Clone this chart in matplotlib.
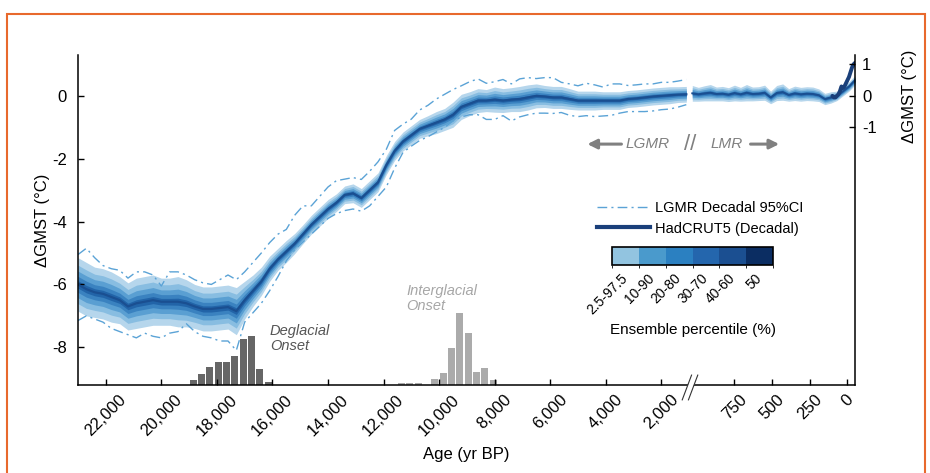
import numpy as np
import matplotlib
matplotlib.use('Agg')
import matplotlib.pyplot as plt
import matplotlib.cm as cm
import matplotlib.patches as mpatches
from matplotlib.colors import ListedColormap, BoundaryNorm
from matplotlib.lines import Line2D

plt.rcParams['font.family'] = ['Liberation Sans', 'DejaVu Sans']
plt.rcParams['axes.unicode_minus'] = False

# ---------------- data ----------------
# LGMR decadal reconstruction, 300-yr grid, 23000 -> 1100 yr BP
lgmr_age = np.arange(23000, 1099, -300)
lgmr_med = np.array([
    -6.0, -6.15, -6.25, -6.3, -6.4, -6.5, -6.7, -6.6, -6.55, -6.5,
    -6.55, -6.55, -6.55, -6.6, -6.7, -6.78, -6.78, -6.75, -6.72, -6.85,
    -6.5, -6.2, -5.9, -5.5, -5.2, -4.95, -4.7, -4.4, -4.1, -3.85,
    -3.6, -3.4, -3.15, -3.1, -3.25, -3.0, -2.75, -2.2, -1.75, -1.45,
    -1.25, -1.05, -0.95, -0.85, -0.75, -0.6, -0.35, -0.25, -0.15, -0.15,
    -0.12, -0.15, -0.12, -0.1, -0.05, 0.0, -0.02, -0.05, -0.05, -0.1,
    -0.15, -0.15, -0.15, -0.15, -0.15, -0.15, -0.1, -0.08, -0.05, -0.02,
    0.0, 0.02, 0.04, 0.05])
# half width of the 2.5-97.5 percentile band
lgmr_spread = np.array([
    0.85, 0.85, 0.8, 0.8, 0.8, 0.75, 0.75, 0.8, 0.8, 0.8,
    0.75, 0.75, 0.8, 0.75, 0.7, 0.7, 0.7, 0.7, 0.7, 0.75,
    0.6, 0.5, 0.45, 0.4, 0.35, 0.35, 0.32, 0.3, 0.3, 0.3,
    0.3, 0.28, 0.28, 0.3, 0.3, 0.3, 0.3, 0.3, 0.3, 0.3,
    0.3, 0.3, 0.32, 0.35, 0.35, 0.4, 0.4, 0.38, 0.38, 0.35,
    0.4, 0.38, 0.38, 0.4, 0.4, 0.38, 0.35, 0.35, 0.35, 0.33,
    0.3, 0.3, 0.3, 0.28, 0.28, 0.28, 0.27, 0.27, 0.27, 0.27,
    0.27, 0.27, 0.25, 0.25])
# decadal 95% CI (dash-dot lines)
lgmr_ci_hi = np.array([
    -5.05, -4.85, -5.15, -5.4, -5.5, -5.55, -5.8, -5.6, -5.6, -5.7,
    -6.05, -5.6, -5.6, -5.7, -5.85, -5.95, -6.0, -5.85, -5.7, -5.85,
    -5.6, -5.3, -5.0, -4.67, -4.4, -4.25, -3.8, -3.5, -3.5, -3.2,
    -2.9, -2.7, -2.65, -2.6, -2.66, -2.4, -2.1, -1.7, -1.1, -0.9,
    -0.74, -0.45, -0.3, -0.1, 0.05, 0.2, 0.32, 0.45, 0.54, 0.4,
    0.45, 0.52, 0.38, 0.54, 0.58, 0.55, 0.58, 0.58, 0.43, 0.38,
    0.32, 0.4, 0.35, 0.28, 0.38, 0.38, 0.33, 0.35, 0.38, 0.38,
    0.43, 0.43, 0.47, 0.52])
lgmr_ci_lo = np.array([
    -7.15, -7.0, -7.1, -7.2, -7.4, -7.5, -7.6, -7.7, -7.55, -7.65,
    -7.7, -7.55, -7.5, -7.25, -7.5, -7.65, -7.7, -7.8, -7.8, -8.1,
    -7.2, -6.9, -6.6, -6.2, -5.75, -5.25, -4.9, -4.65, -4.4, -4.15,
    -3.9, -3.75, -3.65, -3.6, -3.67, -3.5, -3.2, -2.9, -2.3, -1.8,
    -1.6, -1.42, -1.3, -1.15, -1.0, -0.8, -0.67, -0.6, -0.6, -0.75,
    -0.75, -0.63, -0.8, -0.67, -0.6, -0.55, -0.55, -0.56, -0.53, -0.62,
    -0.66, -0.63, -0.66, -0.64, -0.62, -0.55, -0.5, -0.5, -0.5, -0.48,
    -0.44, -0.42, -0.36, -0.28])

# LMR (last millennium), 40-yr grid
lmr_age = np.arange(1030, -51, -40)
lmr_med = np.array([
    0.08, 0.05, 0.08, 0.1, 0.06, 0.07, 0.04, 0.09, 0.05, 0.1,
    0.06, 0.07, 0.1, -0.05, 0.09, 0.12, 0.03, 0.08, 0.05, 0.07,
    0.06, 0.02, -0.1, -0.05, 0.0, 0.15, 0.3, 0.5])
lmr_spread = np.array([
    0.25, 0.22, 0.24, 0.26, 0.22, 0.23, 0.22, 0.25, 0.22, 0.26,
    0.22, 0.22, 0.24, 0.2, 0.24, 0.26, 0.2, 0.23, 0.22, 0.22,
    0.22, 0.2, 0.18, 0.18, 0.15, 0.15, 0.15, 0.15])

# HadCRUT5 decadal
had_age = np.arange(100, -51, -10)
had_val = np.array([0.0, -0.05, -0.05, 0.0, 0.05, 0.15, 0.3, 0.25,
                    0.3, 0.4, 0.5, 0.6, 0.75, 0.9, 1.0, 1.05])

# onset histograms (percent of records), 300-yr bins
degl_age = np.array([18850, 18550, 18250, 17950, 17650, 17350, 17050, 16750, 16450, 16150])
degl_pct = np.array([1.6, 3.5, 5.8, 7.4, 7.4, 9.3, 14.7, 15.7, 5.1, 1.0])
inter_age = np.array([11350, 11050, 10750, 10450, 10150, 9850, 9550, 9250, 8950, 8650, 8350, 8050])
inter_pct = np.array([0.6, 0.6, 0.6, 0.0, 1.9, 3.8, 11.8, 23.0, 16.6, 4.2, 5.4, 1.6])

# percentile bands relative to the 2.5-97.5 half width
band_frac = [1.0, 0.72, 0.5, 0.3, 0.14]
cbar_labels = ['2.5-97.5', '10-90', '20-80', '30-70', '40-60', '50']

xtick_age = [22000, 20000, 18000, 16000, 14000, 12000, 10000, 8000, 6000, 4000, 2000, 750, 500, 250, 0]
xtick_lab = ['22,000', '20,000', '18,000', '16,000', '14,000', '12,000', '10,000', '8,000',
             '6,000', '4,000', '2,000', '750', '500', '250', '0']

# ---------------- styles ----------------
band_colors = ['#b6d6ec', '#88bde1', '#5a9fd2', '#3a82c0', '#2264a8']
cbar_colors = ['#92c4e0', '#4a9acc', '#2b80c1', '#2466ad', '#1b4f91', '#0b2d62']
med_color = '#1a4f91'
ci_color = '#5ba3d6'
had_color = '#1a3f7a'
ci_style = (0, (7, 3, 1.5, 3))
ymin, ymax = -9.2, 1.3


# broken time axis: linear in the LGMR part, stretched in the last millennium
# (increasing with age, the axis is then inverted with set_xlim)
def fwd(age):
    age = np.asarray(age, dtype=float)
    return -np.where(age >= 1050, (23000 - age) / 2000, 11.817 + (750 - age) * 0.678 / 250)


def inv(u):
    u = -np.asarray(u, dtype=float)
    return np.where(u < 11.02, 23000 - 2000 * u, 750 - (u - 11.817) * 250 / 0.678)


fig = plt.figure(figsize=(9.3, 4.73), dpi=100)
ax = fig.add_axes([78 / 930, 1 - 385 / 473, 777 / 930, 330 / 473])
ax.set_xscale('function', functions=(fwd, inv))

# percentile bands
for f, c in zip(band_frac, band_colors):
    ax.fill_between(lgmr_age, lgmr_med - f * lgmr_spread, lgmr_med + f * lgmr_spread, color=c, lw=0)
    ax.fill_between(lmr_age, lmr_med - f * lmr_spread, lmr_med + f * lmr_spread, color=c, lw=0)
ax.plot(lgmr_age, lgmr_med, color=med_color, lw=1.6)
ax.plot(lmr_age, lmr_med, color=med_color, lw=1.4)
ax.plot(lgmr_age, lgmr_ci_hi, color=ci_color, lw=1.0, ls=ci_style)
ax.plot(lgmr_age, lgmr_ci_lo, color=ci_color, lw=1.0, ls=ci_style)
ax.plot(had_age, had_val, color=had_color, lw=2.8, solid_capstyle='round')

# onset histograms sitting on the bottom axis
ax.bar(degl_age, degl_pct * 0.1, width=250, bottom=ymin, color='#666666', zorder=1)
ax.bar(inter_age, inter_pct * 0.1, width=250, bottom=ymin, color='#ababab', zorder=1)

ax.set_xlim(23000, -50)
ax.set_ylim(ymin, ymax)
ax.set_xticks(xtick_age, xtick_lab, rotation=45, ha='center')
ax.set_yticks([0, -2, -4, -6, -8])
ax.tick_params(direction='in', length=4, width=1, labelsize=12)
ax.tick_params(axis='x', pad=5)
ax.tick_params(axis='y', pad=8)
ax.minorticks_off()
for s in ['top', 'right']:
    ax.spines[s].set_visible(False)
for s in ['left', 'bottom']:
    ax.spines[s].set_linewidth(1.1)
ax.set_ylabel('ΔGMST (°C)', fontsize=12)
ax.yaxis.set_label_coords(-0.036, 0.5)
ax.set_xlabel('Age (yr BP)', fontsize=12, labelpad=6)

# right axis
ax2 = ax.twinx()
ax2.set_ylim(ymin, ymax)
ax2.set_yticks([-1, 0, 1])
ax2.tick_params(direction='in', length=4, width=1, labelsize=12, pad=5)
for s in ['top', 'left', 'bottom']:
    ax2.spines[s].set_visible(False)
ax2.spines['right'].set_linewidth(1.1)
ax2.set_ylabel('ΔGMST (°C)', fontsize=12)
ax2.yaxis.set_label_coords(1.06, (0 - ymin) / (ymax - ymin))

# axis break marks
xb = (690 - 78) / 777
ax.plot([xb - 0.006, xb + 0.006], [-0.045, 0.03], transform=ax.transAxes, color='white', lw=4, clip_on=False, zorder=5)
for d in (-0.004, 0.004):
    ax.plot([xb + d - 0.006, xb + d + 0.006], [-0.045, 0.03], transform=ax.transAxes,
            color='#333333', lw=0.8, clip_on=False, zorder=6)

# LGMR // LMR arrows
gray = '#808080'
ax.annotate('', xy=(0.652, 0.73), xytext=(0.703, 0.73), xycoords='axes fraction',
            arrowprops=dict(arrowstyle='-|>', color=gray, lw=2.2, mutation_scale=14))
ax.annotate('', xy=(0.906, 0.73), xytext=(0.862, 0.73), xycoords='axes fraction',
            arrowprops=dict(arrowstyle='-|>', color=gray, lw=2.2, mutation_scale=14))
ax.text(0.733, 0.73, 'LGMR', transform=ax.transAxes, ha='center', va='center', style='italic',
        color=gray, fontsize=11)
ax.text(0.835, 0.73, 'LMR', transform=ax.transAxes, ha='center', va='center', style='italic',
        color=gray, fontsize=11)
ax.text(0.788, 0.73, '//', transform=ax.transAxes, ha='center', va='center',
        color=gray, fontsize=16)

# onset labels
ax.text((270 - 78) / 777, (385 - 324) / 330, 'Deglacial\nOnset', transform=ax.transAxes,
        ha='left', va='top', style='italic', color='#555555', fontsize=10.5, linespacing=1.1)
ax.text((406 - 78) / 777, (385 - 284) / 330, 'Interglacial\nOnset', transform=ax.transAxes,
        ha='left', va='top', style='italic', color='#a6a6a6', fontsize=10.5, linespacing=1.1)

# legend
handles = [Line2D([], [], color=ci_color, lw=1.0, ls=ci_style),
           Line2D([], [], color=had_color, lw=3)]
ax.legend(handles, ['LGMR Decadal 95%CI', 'HadCRUT5 (Decadal)'], loc='upper left',
          bbox_to_anchor=((597 - 78) / 777, (385 - 201) / 330), frameon=False, fontsize=10.5,
          handlelength=3.6, handletextpad=0.4, labelspacing=0.45, borderaxespad=0, borderpad=0)

# percentile colour bar
cax = fig.add_axes([612 / 930, 1 - 265 / 473, 161 / 930, 18 / 473])
cmap = ListedColormap(cbar_colors)
norm = BoundaryNorm(np.arange(len(cbar_colors) + 1), len(cbar_colors))
cb = fig.colorbar(cm.ScalarMappable(norm=norm, cmap=cmap), cax=cax, orientation='horizontal',
                  ticks=np.arange(len(cbar_colors)) + 0.5)
cb.ax.set_xticklabels(cbar_labels, rotation=45, ha='right', va='center', rotation_mode='anchor', fontsize=10)
cb.ax.tick_params(length=0, pad=8)
cb.outline.set_linewidth(1.2)
cb.set_label('Ensemble percentile (%)', fontsize=11, labelpad=4)

# orange frame around the panel
fig.patches.append(mpatches.Rectangle((7 / 930, -0.02), 918 / 930, 1.005 - 7 / 473, transform=fig.transFigure,
                                      fill=False, edgecolor='#e8692c', lw=1.5))

fig.savefig('out.png', dpi=100)
